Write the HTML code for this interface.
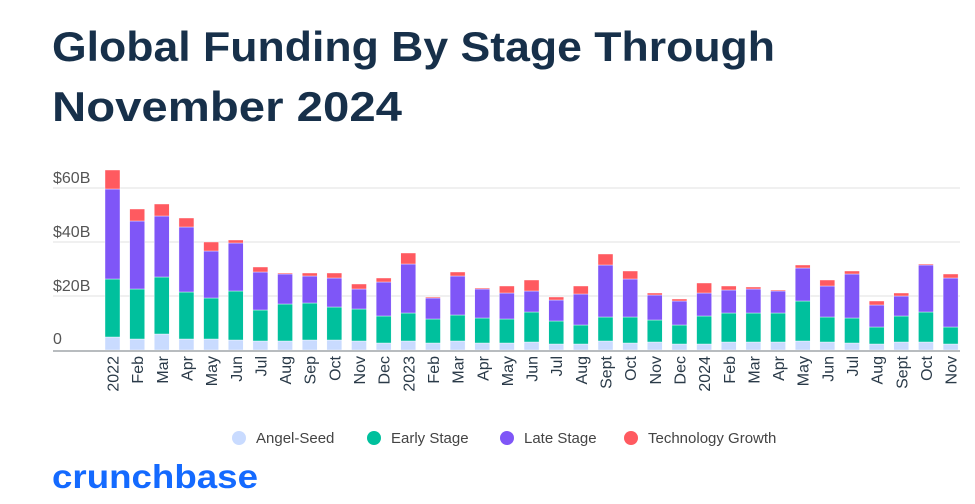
<!DOCTYPE html>
<html><head><meta charset="utf-8"><style>
html,body{margin:0;padding:0;background:#fff;}
svg{display:block;font-family:"Liberation Sans",sans-serif;}
</style></head><body>
<svg width="975" height="504" viewBox="0 0 975 504" xmlns="http://www.w3.org/2000/svg">
<text x="52" y="61" font-size="42" font-weight="bold" fill="#17304a" textLength="723" lengthAdjust="spacingAndGlyphs">Global Funding By Stage Through</text>
<text x="52" y="121" font-size="42" font-weight="bold" fill="#17304a" textLength="350" lengthAdjust="spacingAndGlyphs">November 2024</text>
<g stroke="#ebebeb" stroke-width="1.5">
<line x1="53" x2="960" y1="188" y2="188"/><line x1="53" x2="960" y1="242" y2="242"/><line x1="53" x2="960" y1="296" y2="296"/>
</g>
<g font-size="16" fill="#555">
<text x="53" y="183">$60B</text><text x="53" y="237">$40B</text><text x="53" y="291">$20B</text><text x="53" y="344">0</text>
</g>
<g id="bars" stroke="#fff" stroke-width="0.4"></g>
<line x1="53" x2="960" y1="351" y2="351" stroke="#b8bcbf" stroke-width="2"/>
<g id="labels" font-size="16" fill="#2a3a48"></g>
<g font-size="15" fill="#444">
<circle cx="239" cy="438" r="7" fill="#c9dbff"/><text x="256" y="443">Angel-Seed</text>
<circle cx="374" cy="438" r="7" fill="#00c09d"/><text x="391" y="443">Early Stage</text>
<circle cx="507" cy="438" r="7" fill="#7f56f7"/><text x="524" y="443">Late Stage</text>
<circle cx="631" cy="438" r="7" fill="#ff5a60"/><text x="648" y="443">Technology Growth</text>
</g>
<text x="52" y="488" font-size="33" font-weight="bold" fill="#146aff" textLength="206" lengthAdjust="spacingAndGlyphs">crunchbase</text>
<script>
var d=[[337,279,189,170],[339,289,221,209],[334,277,216,204],[339,292,227,218],[339,298,251,242],[340,291,243,240],[341,310,272,267],[341,304,274,273],[340,303,276,273],[340,307,278,273],[341,309,289,284],[343,316,282,278],[341,313,264,253],[343,319,298,297],[341,315,276,272],[343,318,289,288],[343,319,293,286],[342,312,291,280],[344,321,300,297],[344,325,294,286],[341,317,265,254],[343,317,279,271],[342,320,295,293],[344,325,301,299],[344,316,293,283],[342,313,290,286],[342,313,289,287],[342,313,291,290],[341,301,268,265],[342,317,286,280],[343,318,274,271],[344,327,305,301],[342,316,296,293],[342,312,265,264],[344,327,278,274]];
var labs=["2022","Feb","Mar","Apr","May","Jun","Jul","Aug","Sep","Oct","Nov","Dec","2023","Feb","Mar","Apr","May","Jun","Jul","Aug","Sept","Oct","Nov","Dec","2024","Feb","Mar","Apr","May","Jun","Jul","Aug","Sept","Oct","Nov"];
var cols=["#c9dbff","#00c09d","#7f56f7","#ff5a60"];
var ns="http://www.w3.org/2000/svg",g=document.getElementById("bars"),lg=document.getElementById("labels");
d.forEach(function(b,i){var x=105+i*24.65,prev=350;
for(var k=0;k<4;k++){var r=document.createElementNS(ns,"rect");r.setAttribute("x",x);r.setAttribute("width",15);r.setAttribute("y",b[k]);r.setAttribute("height",Math.max(prev-b[k],0));r.setAttribute("fill",cols[k]);g.appendChild(r);prev=b[k];}
var t=document.createElementNS(ns,"text");var cx=x+7.5+6;t.setAttribute("transform","translate("+cx+",356) rotate(-90)");t.setAttribute("text-anchor","end");t.textContent=labs[i];lg.appendChild(t);});
</script>
</svg>
</body></html>
